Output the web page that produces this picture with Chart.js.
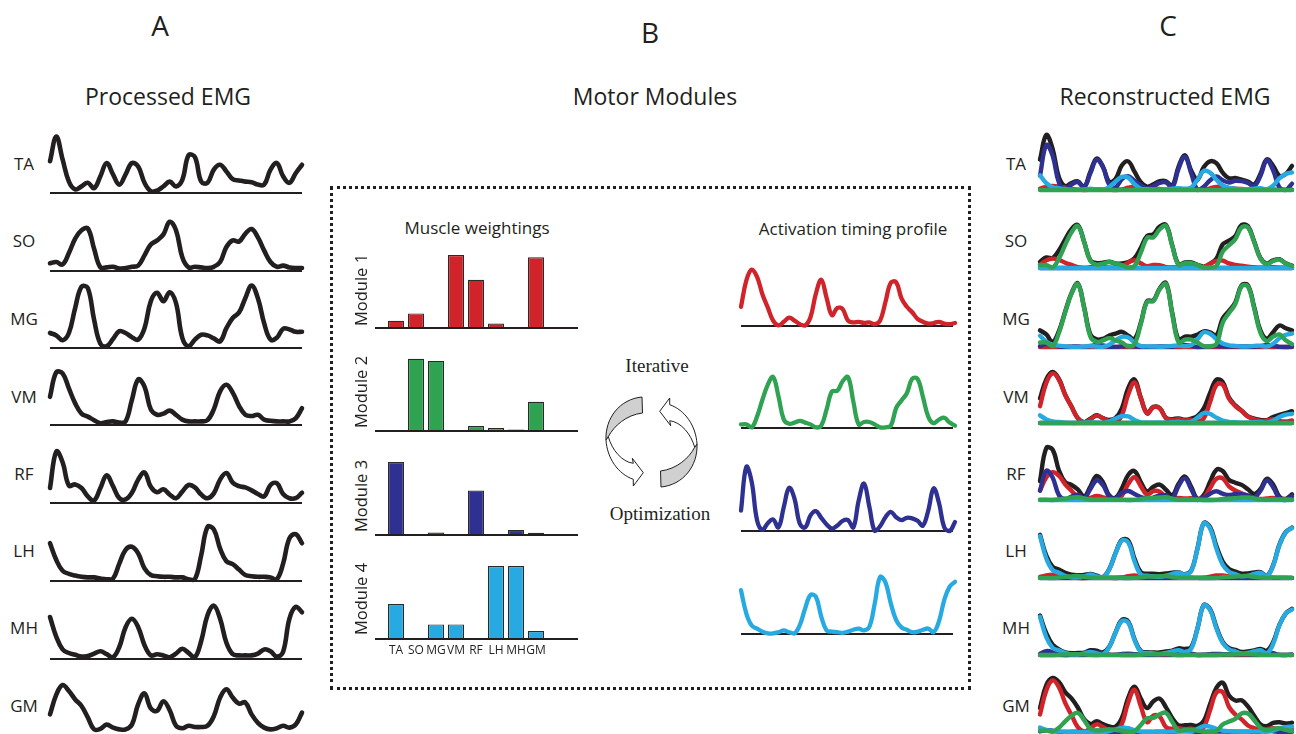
<!DOCTYPE html>
<html>
<head>
<meta charset="utf-8">
<title>Motor modules</title>
<script src="https://cdn.jsdelivr.net/npm/chart.js@4.4.1/dist/chart.umd.min.js"></script>
<style>
  html, body { margin: 0; padding: 0; background: #fff; }
  #fig { position: relative; width: 1296px; height: 734px; overflow: hidden;
         font-family: "Open Sans", sans-serif; color: #231f20; }
  #fig canvas { position: absolute; }
  .txt { position: absolute; white-space: nowrap; line-height: 1; transform: translate(-50%, -50%); }
  .rot { transform: translate(-50%, -50%) rotate(-90deg); }
  .serif { font-family: "Liberation Serif", "DejaVu Serif", serif; }
  #box { position: absolute; left: 330px; top: 186px; width: 635px; height: 498px;
         border: 3px dotted #231f20; }
  #loop { position: absolute; left: 600px; top: 390px; }
</style>
</head>
<body>
<div id="fig">
  <div id="box"></div>
  <svg id="loop" width="110" height="110" viewBox="0 0 110 110">
    <g id="arrowL" stroke="#231f20" stroke-width="1" stroke-linejoin="round">
      <path fill="#d0d0d0" d="M42,7 L42.5,23 C26,25 14,36 8.3,46.7 L6,50 C5,28 20,9 42,7 Z"/>
      <path fill="#fff" d="M6,50 C7,68 18,84 33.3,89.3 L33.3,96 L43.3,82.7 L32.3,68.3 L33.3,73.3 C22,72 12,60 8.3,46.7 Z"/>
    </g>
    <use href="#arrowL" transform="rotate(180 51.5 52)"/>
  </svg>
</div>
<script>
// time axis, % of gait cycle
const cycle = [0, 2.5, 5, 7.5, 10, 12.5, 15, 17.5, 20, 22.5, 25, 27.5, 30, 32.5, 35, 37.5, 40,
  42.5, 45, 47.5, 50, 52.5, 55, 57.5, 60, 62.5, 65, 67.5, 70, 72.5, 75, 77.5, 80, 82.5, 85,
  87.5, 90, 92.5, 95, 97.5, 100];

const muscles = ['TA', 'SO', 'MG', 'VM', 'RF', 'LH', 'MH', 'GM'];

// processed EMG (panel A)
const emgTA = [0.53, 0.94, 0.56, 0.19, 0.06, 0.11, 0.17, 0.08, 0.28, 0.50, 0.31, 0.14, 0.31, 0.50, 0.44, 0.17, 0.03, 0.04, 0.11, 0.19, 0.11, 0.22, 0.63, 0.60, 0.19, 0.17, 0.39, 0.47, 0.36, 0.23, 0.21, 0.19, 0.18, 0.14, 0.14, 0.39, 0.50, 0.28, 0.17, 0.33, 0.47];
const emgSO = [0.13, 0.15, 0.11, 0.30, 0.54, 0.68, 0.71, 0.37, 0.06, 0.06, 0.07, 0.04, 0.05, 0.07, 0.09, 0.26, 0.44, 0.51, 0.61, 0.82, 0.68, 0.23, 0.06, 0.07, 0.06, 0.05, 0.07, 0.15, 0.40, 0.51, 0.49, 0.62, 0.70, 0.56, 0.34, 0.15, 0.07, 0.09, 0.06, 0.05, 0.05];
const emgMG = [0.25, 0.21, 0.13, 0.25, 0.67, 1.02, 1.00, 0.47, 0.07, 0.03, 0.15, 0.28, 0.25, 0.18, 0.14, 0.33, 0.78, 0.92, 0.78, 0.93, 0.75, 0.17, 0.03, 0.14, 0.22, 0.21, 0.16, 0.11, 0.33, 0.50, 0.59, 0.83, 1.04, 0.83, 0.41, 0.14, 0.17, 0.32, 0.31, 0.27, 0.27];
const emgVM = [0.47, 0.88, 0.86, 0.61, 0.36, 0.19, 0.14, 0.08, 0.03, 0.05, 0.06, 0.04, 0.06, 0.42, 0.76, 0.64, 0.26, 0.17, 0.19, 0.24, 0.17, 0.09, 0.06, 0.06, 0.06, 0.08, 0.26, 0.56, 0.67, 0.54, 0.32, 0.17, 0.15, 0.17, 0.09, 0.07, 0.06, 0.06, 0.06, 0.11, 0.28];
const emgRF = [0.25, 0.86, 0.68, 0.29, 0.31, 0.25, 0.11, 0.04, 0.25, 0.46, 0.28, 0.08, 0.06, 0.17, 0.39, 0.51, 0.27, 0.18, 0.23, 0.14, 0.08, 0.19, 0.30, 0.26, 0.14, 0.08, 0.16, 0.39, 0.50, 0.34, 0.28, 0.26, 0.21, 0.15, 0.11, 0.30, 0.33, 0.15, 0.08, 0.08, 0.17];
const emgLH = [0.63, 0.35, 0.17, 0.12, 0.09, 0.07, 0.06, 0.06, 0.04, 0.03, 0.04, 0.29, 0.52, 0.57, 0.46, 0.21, 0.10, 0.08, 0.07, 0.07, 0.06, 0.06, 0.03, 0.03, 0.43, 0.90, 0.86, 0.54, 0.33, 0.28, 0.19, 0.10, 0.08, 0.07, 0.07, 0.06, 0.03, 0.29, 0.71, 0.78, 0.63];
const emgMH = [0.70, 0.37, 0.16, 0.10, 0.07, 0.04, 0.05, 0.09, 0.13, 0.08, 0.03, 0.20, 0.53, 0.67, 0.53, 0.23, 0.06, 0.08, 0.06, 0.03, 0.09, 0.17, 0.10, 0.03, 0.30, 0.73, 0.89, 0.67, 0.27, 0.08, 0.06, 0.06, 0.06, 0.09, 0.16, 0.13, 0.04, 0.12, 0.67, 0.87, 0.78];
const emgGM = [0.36, 0.69, 0.85, 0.75, 0.61, 0.50, 0.31, 0.11, 0.12, 0.19, 0.14, 0.11, 0.11, 0.19, 0.53, 0.71, 0.46, 0.42, 0.58, 0.43, 0.17, 0.13, 0.17, 0.15, 0.15, 0.17, 0.33, 0.64, 0.78, 0.64, 0.54, 0.56, 0.36, 0.22, 0.14, 0.11, 0.13, 0.17, 0.14, 0.19, 0.39];

// muscle weightings per module (TA..GM)
const weights1 = [0.10, 0.20, 0, 1.00, 0.66, 0.06, 0, 0.97];
const weights2 = [0, 0.99, 0.96, 0, 0.07, 0.04, 0.02, 0.40];
const weights3 = [1.00, 0, 0.035, 0, 0.61, 0, 0.07, 0.03];
const weights4 = [0.48, 0, 0.20, 0.20, 0, 1.00, 1.00, 0.11];

// activation timing profiles per module
const timing1 = [0.32, 0.76, 0.94, 0.82, 0.53, 0.31, 0.09, 0.01, 0.07, 0.14, 0.09, 0.03, 0.01, 0.15, 0.54, 0.77, 0.47, 0.18, 0.30, 0.28, 0.09, 0.06, 0.07, 0.05, 0.06, 0.03, 0.09, 0.40, 0.72, 0.73, 0.46, 0.32, 0.23, 0.12, 0.07, 0.04, 0.05, 0.07, 0.04, 0.03, 0.05];
const timing2 = [0.06, 0.06, 0.01, 0.19, 0.47, 0.72, 0.85, 0.53, 0.14, 0.07, 0.09, 0.12, 0.09, 0.06, 0.01, 0.04, 0.31, 0.61, 0.62, 0.78, 0.85, 0.44, 0.06, 0.10, 0.10, 0.06, 0.01, 0.01, 0.04, 0.33, 0.46, 0.58, 0.82, 0.82, 0.52, 0.19, 0.08, 0.14, 0.17, 0.09, 0.04];
const timing3 = [0.34, 1.07, 0.82, 0.18, 0.02, 0.13, 0.19, 0.06, 0.40, 0.72, 0.54, 0.12, 0.06, 0.26, 0.33, 0.22, 0.11, 0.04, 0.09, 0.17, 0.18, 0.06, 0.51, 0.79, 0.40, 0.00, 0.08, 0.23, 0.32, 0.23, 0.18, 0.22, 0.21, 0.17, 0.09, 0.34, 0.71, 0.47, 0.06, 0.00, 0.15];
const timing4 = [0.73, 0.34, 0.14, 0.09, 0.04, 0.01, 0.01, 0.03, 0.06, 0.03, 0.01, 0.15, 0.43, 0.65, 0.62, 0.29, 0.06, 0.04, 0.03, 0.02, 0.04, 0.07, 0.09, 0.06, 0.12, 0.51, 0.95, 0.86, 0.51, 0.23, 0.11, 0.07, 0.03, 0.04, 0.07, 0.09, 0.03, 0.21, 0.57, 0.79, 0.87];

// ---- layout ----
const INK = '#231f20';
const moduleColors = ['#d1232a', '#30a352', '#2e3192', '#27aae1'];
const stackOrder = [4, 1, 3, 2];   // panel C: green on top, then cyan, navy, red
const emgRows = [emgTA, emgSO, emgMG, emgVM, emgRF, emgLH, emgMH, emgGM];
const weightSets = [weights1, weights2, weights3, weights4];
const timingSets = [timing1, timing2, timing3, timing4];

const rowA = [193, 271, 348, 425, 503, 581, 659, 736];     // baselines panel A
const rowC = [190, 268, 347, 423, 500, 578, 655, 732];     // baselines panel C
const labelY = [163, 240, 318, 396, 473, 550, 627, 705];
const peakC = [55, 43, 64, 51, 52, 55, 50, 54];            // px height of reconstruction peak
const barAxis = [328, 431, 535, 639];
const timingBase = [326, 428, 531, 634];
const moduleLabelY = [290, 392, 496, 599];

const fig = document.getElementById('fig');

function text(str, x, y, size, cls) {
  const d = document.createElement('div');
  d.className = 'txt' + (cls ? ' ' + cls : '');
  d.textContent = str;
  d.style.left = x + 'px';
  d.style.top = y + 'px';
  d.style.fontSize = size + 'px';
  fig.appendChild(d);
}

function addCanvas(x, y, w, h) {
  const c = document.createElement('canvas');
  c.width = w; c.height = h;
  c.style.left = x + 'px'; c.style.top = y + 'px';
  c.style.width = w + 'px'; c.style.height = h + 'px';
  fig.appendChild(c);
  return c;
}

// horizontal zero line
const baseLine = {
  id: 'baseLine',
  draw(chart, o) {
    if (!o || !o.color) return;
    const ctx = chart.ctx, area = chart.chartArea;
    const y = chart.scales.y.getPixelForValue(0);
    ctx.save();
    ctx.strokeStyle = o.color;
    ctx.lineWidth = o.width;
    ctx.beginPath();
    ctx.moveTo(o.left != null ? o.left : area.left, y);
    ctx.lineTo(o.right != null ? o.right : area.right, y);
    ctx.stroke();
    ctx.restore();
  },
  beforeDatasetsDraw(chart, args, o) { if (!o.onTop) this.draw(chart, o); },
  afterDatasetsDraw(chart, args, o) { if (o.onTop) this.draw(chart, o); }
};

// muscle names under the last weighting chart
const muscleTicks = {
  id: 'muscleTicks',
  afterDraw(chart, args, o) {
    if (!o || !o.show) return;
    const ctx = chart.ctx, xs = chart.scales.x;
    ctx.save();
    ctx.fillStyle = INK;
    ctx.font = '12px "Open Sans"';
    ctx.textAlign = 'center';
    ctx.textBaseline = 'middle';
    chart.data.labels.forEach((lab, i) => ctx.fillText(lab, xs.getPixelForValue(i), chart.chartArea.bottom + 12));
    ctx.restore();
  }
};

function lineRow(x0, x1, yb, areaH, yMax, datasets, base) {
  const c = addCanvas(x0 - 10, yb - areaH - 5, x1 - x0 + 14, areaH + 10);
  new Chart(c, {
    type: 'line',
    data: { labels: cycle, datasets },
    options: {
      responsive: false, animation: false, events: [],
      layout: { padding: { left: 10, right: 4, top: 5, bottom: 5 } },
      scales: { x: { display: false }, y: { display: false, min: 0, max: yMax } },
      elements: { point: { radius: 0 }, line: { tension: 0.4, borderCapStyle: 'round', borderJoinStyle: 'round' } },
      plugins: { legend: { display: false }, tooltip: { enabled: false }, baseLine: base || {} }
    },
    plugins: [baseLine]
  });
}

function trace(data, color, width, order) {
  return { data, borderColor: color, borderWidth: width, fill: false, clip: false, order: order || 0 };
}

// ---- titles ----
text('A', 160, 25, 28);
text('B', 650, 32, 28);
text('C', 1168, 25, 28);
text('Processed EMG', 168, 96, 23);
text('Motor Modules', 655, 96, 23);
text('Reconstructed EMG', 1165, 96, 23);
text('Muscle weightings', 477, 227, 17);
text('Activation timing profile', 853, 228, 17);
text('Iterative', 657, 365, 19, 'serif');
text('Optimization', 660, 513, 19, 'serif');

// ---- panel A ----
muscles.forEach((m, i) => {
  text(m, 24, labelY[i], 17);
  lineRow(50, 302, rowA[i], 75, 1.25, [trace(emgRows[i], INK, 4.6)], { color: INK, width: 2 });
});

// ---- panel B: weightings ----
weightSets.forEach((w, k) => {
  const last = k === weightSets.length - 1;
  text('Module ' + (k + 1), 361, moduleLabelY[k], 16.5, 'rot');
  const c = addCanvas(375, barAxis[k] - 82, 205, last ? 106 : 86);
  new Chart(c, {
    type: 'bar',
    data: { labels: muscles, datasets: [{ data: w, backgroundColor: moduleColors[k], borderColor: '#2a2a2a',
      borderWidth: 1.2, barPercentage: 0.8, categoryPercentage: 1 }] },
    options: {
      responsive: false, animation: false, events: [],
      layout: { padding: { left: 11, right: 34, top: 2, bottom: last ? 24 : 4 } },
      scales: { x: { display: false }, y: { display: false, min: 0, max: 80 / 73 } },
      plugins: { legend: { display: false }, tooltip: { enabled: false },
        baseLine: { color: INK, width: 2.2, left: 0, right: 203, onTop: true },
        muscleTicks: { show: last } }
    },
    plugins: [baseLine, muscleTicks]
  });
});

// ---- panel B: timing profiles ----
timingSets.forEach((t, k) => {
  lineRow(741, 955, timingBase[k], 75, 1.25, [trace(t, moduleColors[k], 4.3)], { color: INK, width: 1.8, right: 222 });
});

// ---- panel C: reconstruction = sum of weighting x timing ----
muscles.forEach((m, i) => {
  text(m, 1016, labelY[i], 17);
  const parts = timingSets.map((t, k) => t.map(v => +(v * weightSets[k][i]).toFixed(3)));
  const recon = cycle.map((_, j) => +parts.reduce((s, p) => s + p[j], 0).toFixed(3));
  const yMax = Math.max(...recon) * 70 / peakC[i];
  const sets = [trace(recon, INK, 4.4, 5)];
  parts.forEach((p, k) => sets.push(trace(p, moduleColors[k], 4.4, stackOrder[k])));
  lineRow(1040, 1292, rowC[i], 70, yMax, sets);
});
</script>
</body>
</html>
